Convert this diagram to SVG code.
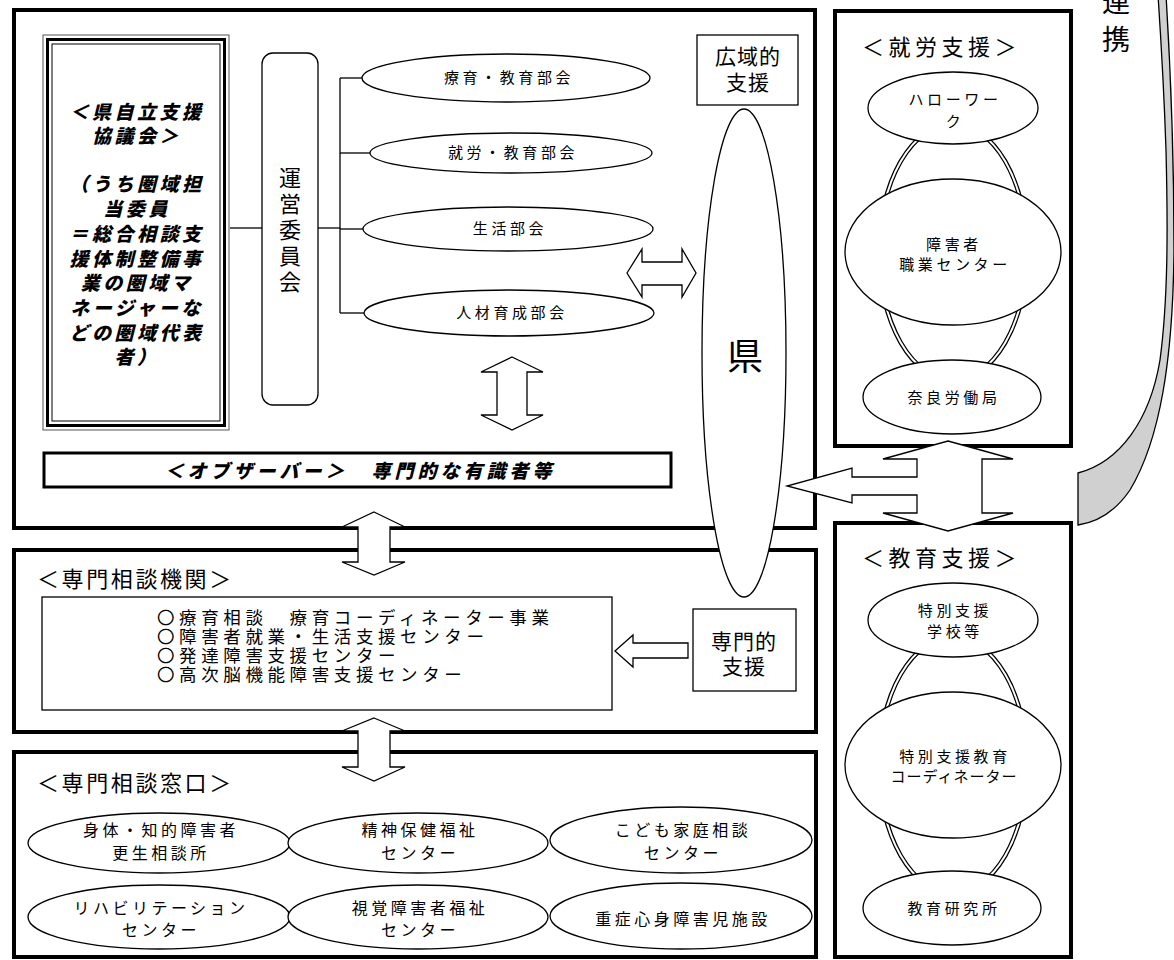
<svg xmlns="http://www.w3.org/2000/svg" width="1174" height="960" viewBox="0 0 1174 960">
<style>
.box{fill:#fff;stroke:#000;stroke-width:4}
.thin{fill:#fff;stroke:#000;stroke-width:1.3}
.arrow{fill:#fff;stroke:#000;stroke-width:1.3;stroke-linejoin:miter}
.line{fill:none;stroke:#000;stroke-width:1.3}
.dbl1{fill:none;stroke:#000;stroke-width:4.5}
.dbl2{fill:none;stroke:#fff;stroke-width:2}
text{font-family:"Noto Sans CJK JP","Noto Sans CJK SC",sans-serif;fill:#000}
.bi{font-size:19px;font-weight:900;font-style:italic;letter-spacing:3.5px;text-anchor:middle}
.el{font-size:15px;letter-spacing:3.6px;text-anchor:middle}
.el16{font-size:16px;letter-spacing:3.5px;text-anchor:middle}
.ttl{font-size:22px;letter-spacing:2.6px}
.lbl{font-size:21px;letter-spacing:1px;text-anchor:middle}
.lst{font-size:17.5px;letter-spacing:4.6px}
</style>

<!-- frames -->
<g id="top-frame"><rect class="box" x="14" y="10" width="801" height="518"/></g>
<g id="senmon-kikan">
  <rect class="box" x="14" y="550" width="802" height="182"/>
  <text class="ttl" x="37" y="587">＜専門相談機関＞</text>
  <rect class="thin" x="42" y="597" width="570" height="113"/>
  <text class="lst" x="157" y="624">〇療育相談　療育コーディネーター事業</text>
  <text class="lst" x="157" y="643">〇障害者就業・生活支援センター</text>
  <text class="lst" x="157" y="662">〇発達障害支援センター</text>
  <text class="lst" x="157" y="681">〇高次脳機能障害支援センター</text>
</g>
<g id="senmon-madoguchi">
  <rect class="box" x="14" y="752" width="802" height="205"/>
  <text class="ttl" x="37" y="791">＜専門相談窓口＞</text>
</g>
<g id="shuro-frame">
  <rect class="box" x="835" y="11" width="236" height="435"/>
  <text class="ttl" x="862" y="55" style="letter-spacing:4.5px">＜就労支援＞</text>
</g>
<g id="kyoiku-frame">
  <rect class="box" x="835" y="523" width="236" height="434"/>
  <text class="ttl" x="862" y="566" style="letter-spacing:4.5px">＜教育支援＞</text>
</g>

<!-- renkei curved shape -->
<g id="renkei">
  <path d="M1078,473 C1120,462 1150,420 1160,360 C1168,300 1168,230 1166,150 C1164,90 1161,40 1158,-5 L1166,-5 C1170,60 1174,160 1174,250 C1173,360 1160,440 1130,490 C1115,512 1098,522 1078,525 Z" fill="#d0d0d0" stroke="#000" stroke-width="1.3"/>
  <text x="1116" y="12" style="font-size:28px;text-anchor:middle">連</text>
  <text x="1116" y="50" style="font-size:28px;text-anchor:middle">携</text>
</g>

<!-- connectors -->
<g id="connectors">
  <line class="line" x1="230" y1="228" x2="262" y2="228"/>
  <line class="line" x1="318" y1="228" x2="340" y2="228"/>
  <line class="line" x1="340" y1="78" x2="340" y2="313"/>
  <line class="line" x1="340" y1="78" x2="363" y2="78"/>
  <line class="line" x1="340" y1="153" x2="370" y2="153"/>
  <line class="line" x1="340" y1="229" x2="363" y2="229"/>
  <line class="line" x1="340" y1="313" x2="364" y2="313"/>
  <ellipse class="dbl1" cx="953" cy="252" rx="74" ry="128"/>
  <ellipse class="dbl2" cx="953" cy="252" rx="74" ry="128"/>
  <ellipse class="dbl1" cx="953" cy="765" rx="74" ry="128"/>
  <ellipse class="dbl2" cx="953" cy="765" rx="74" ry="128"/>
  <polygon class="arrow" points="627,273 642,249 642,262 682,262 682,249 696,273 682,297 682,285 642,285 642,297"/>
  <polygon class="arrow" points="512,357 543,372 527,372 527,415 543,415 512,430 481,415 497,415 497,372 481,372"/>
  <polygon class="arrow" points="374,512 405,527 390,527 390,562 405,562 374,575 342,562 358,562 358,527 342,527"/>
  <polygon class="arrow" points="374,718 405,731 390,731 390,767 405,767 374,781 342,767 358,767 358,731 342,731"/>
  <polygon class="arrow" points="615,651 633,635 633,643 688,643 688,658 633,658 633,667"/>
  <polygon class="arrow" points="948,441 1013,459 982,459 982,513 1013,513 948,531 883,513 917,513 917,495 852,495 852,503 787,486 852,468 852,477 917,477 917,459 883,459"/>
</g>

<!-- left council box -->
<g id="kyogikai">
  <rect x="43" y="35" width="186" height="395" fill="#fff" stroke="#555" stroke-width="1"/>
  <rect x="47.5" y="39.5" width="177" height="386" fill="none" stroke="#000" stroke-width="3"/>
  <rect x="52" y="44" width="168" height="377" fill="none" stroke="#000" stroke-width="1"/>
  <text class="bi" x="137" y="119">＜県自立支援</text>
  <text class="bi" x="137" y="143">協議会＞</text>
  <text class="bi" x="137" y="191">（うち圏域担</text>
  <text class="bi" x="137" y="216">当委員</text>
  <text class="bi" x="137" y="241">＝総合相談支</text>
  <text class="bi" x="137" y="266">援体制整備事</text>
  <text class="bi" x="137" y="290">業の圏域マ</text>
  <text class="bi" x="137" y="315">ネージャーな</text>
  <text class="bi" x="137" y="340">どの圏域代表</text>
  <text class="bi" x="137" y="364">者）</text>
</g>

<g id="unei">
  <rect class="thin" x="262" y="53" width="56" height="352" rx="11"/>
  <text x="290" y="186" style="font-size:22px;text-anchor:middle">運</text>
  <text x="290" y="212" style="font-size:22px;text-anchor:middle">営</text>
  <text x="290" y="238" style="font-size:22px;text-anchor:middle">委</text>
  <text x="290" y="264" style="font-size:22px;text-anchor:middle">員</text>
  <text x="290" y="290" style="font-size:22px;text-anchor:middle">会</text>
</g>

<g id="bukai1"><ellipse class="thin" cx="506" cy="78" rx="144" ry="24"/><text class="el" x="509" y="83">療育・教育部会</text></g>
<g id="bukai2"><ellipse class="thin" cx="511" cy="153" rx="141" ry="20"/><text class="el" x="513" y="158">就労・教育部会</text></g>
<g id="bukai3"><ellipse class="thin" cx="508" cy="229" rx="145" ry="22"/><text class="el" x="510" y="234">生活部会</text></g>
<g id="bukai4"><ellipse class="thin" cx="509" cy="313" rx="145" ry="23"/><text class="el" x="512" y="318">人材育成部会</text></g>

<g id="observer">
  <rect x="44" y="453" width="627" height="34" fill="#fff" stroke="#000" stroke-width="3"/>
  <text class="bi" x="360" y="478" style="letter-spacing:4px">＜オブザーバー＞　専門的な有識者等</text>
</g>

<g id="koiki">
  <rect class="thin" x="697" y="35" width="101" height="70"/>
  <text class="lbl" x="748" y="64">広域的</text>
  <text class="lbl" x="748" y="90">支援</text>
</g>

<g id="ken">
  <ellipse class="thin" cx="744" cy="353" rx="42" ry="244"/>
  <text x="745" y="370" style="font-size:36px;text-anchor:middle">県</text>
</g>

<g id="senmonteki">
  <rect class="thin" x="693" y="609" width="103" height="82"/>
  <text class="lbl" x="744" y="649">専門的</text>
  <text class="lbl" x="744" y="674">支援</text>
</g>

<!-- madoguchi ellipses -->
<g id="m1"><ellipse class="thin" cx="159" cy="843" rx="131" ry="30"/><text class="el16" x="161" y="836">身体・知的障害者</text><text class="el16" x="161" y="859">更生相談所</text></g>
<g id="m2"><ellipse class="thin" cx="418" cy="843" rx="130" ry="30"/><text class="el16" x="420" y="836">精神保健福祉</text><text class="el16" x="420" y="859">センター</text></g>
<g id="m3"><ellipse class="thin" cx="681" cy="840" rx="131" ry="33"/><text class="el16" x="683" y="836">こども家庭相談</text><text class="el16" x="683" y="859">センター</text></g>
<g id="m4"><ellipse class="thin" cx="159" cy="917" rx="131" ry="32"/><text class="el16" x="161" y="914">リハビリテーション</text><text class="el16" x="161" y="936">センター</text></g>
<g id="m5"><ellipse class="thin" cx="418" cy="917" rx="130" ry="32"/><text class="el16" x="420" y="914">視覚障害者福祉</text><text class="el16" x="420" y="936">センター</text></g>
<g id="m6"><ellipse class="thin" cx="681" cy="916" rx="131" ry="33"/><text class="el16" x="683" y="925">重症心身障害児施設</text></g>

<!-- shuro ellipses -->
<g id="hellowork"><ellipse class="thin" cx="953" cy="108" rx="85" ry="36"/><text class="el" x="955" y="105">ハローワー</text><text class="el" x="955" y="127">ク</text></g>
<g id="shokugyo"><ellipse class="thin" cx="953" cy="252" rx="108" ry="73"/><text class="el" x="954" y="250">障害者</text><text class="el" x="955" y="270">職業センター</text></g>
<g id="nara"><ellipse class="thin" cx="952" cy="397" rx="89" ry="37"/><text class="el" x="954" y="403">奈良労働局</text></g>

<!-- kyoiku ellipses -->
<g id="tokubetsu"><ellipse class="thin" cx="953" cy="620" rx="85" ry="37"/><text class="el" x="955" y="616">特別支援</text><text class="el" x="955" y="637">学校等</text></g>
<g id="coordinator"><ellipse class="thin" cx="953" cy="765" rx="108" ry="73"/><text class="el" x="955" y="762">特別支援教育</text><text class="el" x="954" y="782" style="letter-spacing:1px">コーディネーター</text></g>
<g id="kenkyujo"><ellipse class="thin" cx="952" cy="908" rx="89" ry="37"/><text class="el" x="954" y="914">教育研究所</text></g>
</svg>
